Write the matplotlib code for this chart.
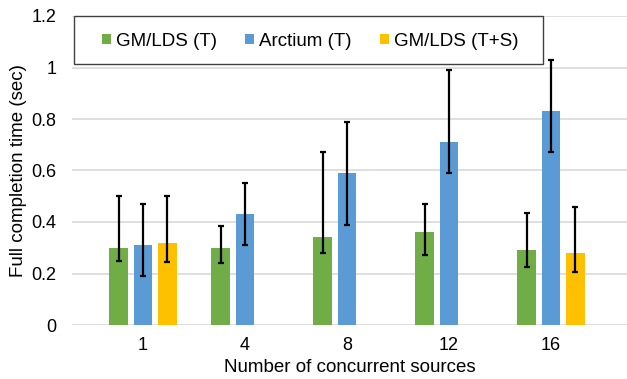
import numpy as np
from matplotlib import pyplot as plt
from matplotlib.patches import Rectangle

plt.rcParams["font.family"] = ["Liberation Sans", "DejaVu Sans"]

sources = ["1", "4", "8", "12", "16"]
series = ["GM/LDS (T)", "Arctium (T)", "GM/LDS (T+S)"]
colors = ["#70ad47", "#5b9bd5", "#ffc000"]

gm_t = [0.30, 0.30, 0.34, 0.36, 0.29]
gm_t_lo = [0.25, 0.24, 0.28, 0.27, 0.225]
gm_t_hi = [0.50, 0.385, 0.67, 0.47, 0.435]

arc_t = [0.31, 0.43, 0.59, 0.71, 0.83]
arc_t_lo = [0.19, 0.31, 0.39, 0.59, 0.67]
arc_t_hi = [0.47, 0.55, 0.79, 0.99, 1.03]

gm_ts = [0.32, np.nan, np.nan, np.nan, 0.28]
gm_ts_lo = [0.245, np.nan, np.nan, np.nan, 0.205]
gm_ts_hi = [0.50, np.nan, np.nan, np.nan, 0.46]

W, H = 627, 379
fig = plt.figure(figsize=(W / 100, H / 100), dpi=100)
# plot area in pixels: x 72..627, y 16..325
ax = fig.add_axes([72 / W, (H - 325) / H, 555 / W, 309 / H])

x = np.arange(len(sources))
width = 0.186
step = 0.24
data = [(gm_t, gm_t_lo, gm_t_hi), (arc_t, arc_t_lo, arc_t_hi), (gm_ts, gm_ts_lo, gm_ts_hi)]
for i, (vals, lo, hi) in enumerate(data):
    vals = np.array(vals)
    err = np.array([vals - np.array(lo), np.array(hi) - vals])
    pos = x + (i - 1) * step
    ax.bar(pos, vals, width, color=colors[i], label=series[i], zorder=3)
    ax.errorbar(pos, vals, yerr=err, fmt="none", ecolor="black", elinewidth=1.6,
                capsize=2, capthick=1.6, zorder=4)

ax.set_ylim(0, 1.2)
ax.set_xlim(-(143 - 72) / 102, 4 + (627 - 551) / 102)
ax.set_yticks(np.arange(0, 1.21, 0.2))
ax.set_yticklabels(["0", "0.2", "0.4", "0.6", "0.8", "1", "1.2"])
ax.set_xticks(x)
ax.set_xticklabels(sources)
ax.tick_params(axis="y", length=0, labelsize=13, pad=11)
ax.tick_params(axis="x", length=0, labelsize=13, pad=9)
ax.yaxis.grid(True, color="#d9d9d9", linewidth=1.2, zorder=0)
for s in ax.spines.values():
    s.set_visible(False)

ax.set_xlabel("Number of concurrent sources", fontsize=13.5, labelpad=3)
ax.set_ylabel("Full completion time (sec)", fontsize=13.5, labelpad=3)

# legend box drawn by hand, entries centred inside it
box = Rectangle((74 / W, (H - 64) / H), (543 - 74) / W, 48 / H, transform=fig.transFigure,
                facecolor="white", edgecolor="#404040", linewidth=1.0, zorder=5)
fig.patches.append(box)
leg = fig.legend(*ax.get_legend_handles_labels(), ncol=3, loc="center",
                 bbox_to_anchor=(310 / W, (H - 41) / H), fontsize=13.5,
                 frameon=False, handlelength=0.5, handleheight=0.5,
                 handletextpad=0.25, columnspacing=1.5)
leg.set_zorder(6)

fig.savefig("out.png", dpi=100)
